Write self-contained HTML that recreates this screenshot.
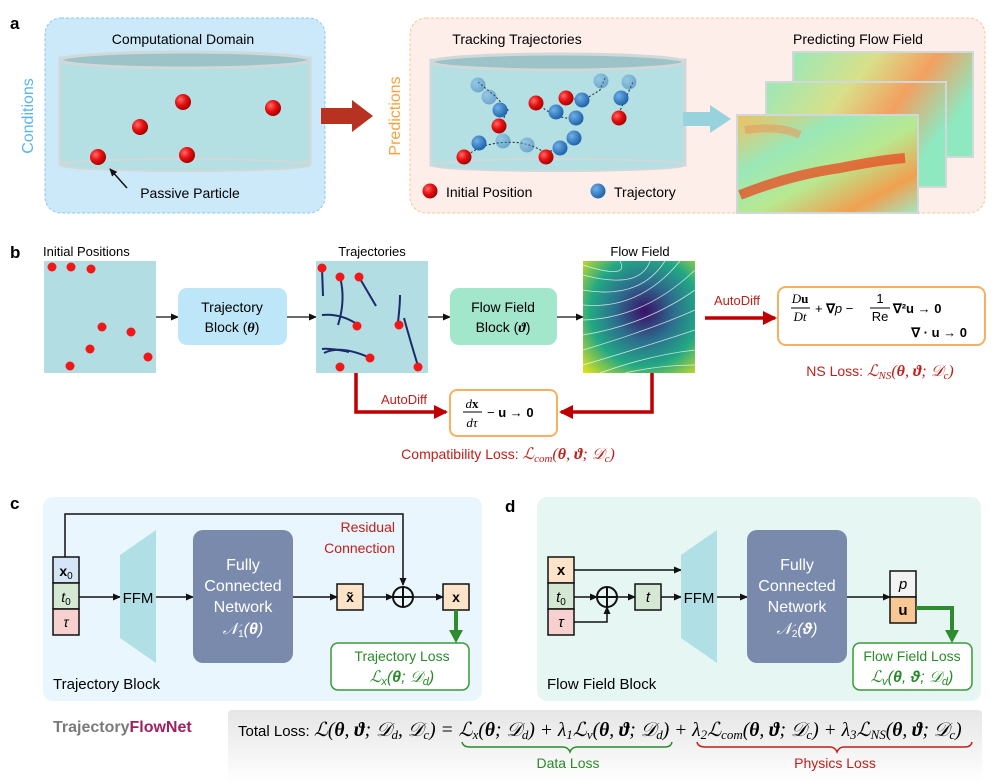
<!DOCTYPE html>
<html><head><meta charset="utf-8"><style>
html,body{margin:0;padding:0;background:#fff}
svg{display:block}
text{font-family:"Liberation Sans",sans-serif}
.m{font-family:"Liberation Serif",serif;font-style:italic}
</style></head><body>
<svg width="997" height="784" viewBox="0 0 997 784" xmlns="http://www.w3.org/2000/svg">
<defs>
<radialGradient id="rb" cx="0.35" cy="0.35" r="0.7"><stop offset="0" stop-color="#ff6a6a"/><stop offset="0.5" stop-color="#e81010"/><stop offset="1" stop-color="#a00000"/></radialGradient>
<radialGradient id="bb" cx="0.35" cy="0.35" r="0.7"><stop offset="0" stop-color="#6fb0e8"/><stop offset="1" stop-color="#1a5fa8"/></radialGradient>
<linearGradient id="jet" x1="0" y1="0" x2="1" y2="1"><stop offset="0" stop-color="#f0c060"/><stop offset="0.3" stop-color="#9ae8b8"/><stop offset="0.55" stop-color="#b8e890"/><stop offset="0.8" stop-color="#f0a050"/><stop offset="1" stop-color="#a0e8c0"/></linearGradient>
<linearGradient id="jet2" x1="0" y1="0" x2="1" y2="0.4"><stop offset="0" stop-color="#9ae8b8"/><stop offset="0.4" stop-color="#d8e08a"/><stop offset="0.7" stop-color="#f2a060"/><stop offset="1" stop-color="#8ee8c0"/></linearGradient>
<radialGradient id="vir" cx="0.55" cy="0.45" r="0.75"><stop offset="0" stop-color="#3a1068"/><stop offset="0.35" stop-color="#2c6e8e"/><stop offset="0.65" stop-color="#22a884"/><stop offset="1" stop-color="#d8e020"/></radialGradient>
<linearGradient id="tot" x1="0" y1="0" x2="0" y2="1"><stop offset="0" stop-color="#e6e6e6"/><stop offset="1" stop-color="#ffffff"/></linearGradient>
<marker id="ah" markerWidth="8" markerHeight="8" refX="7" refY="4" orient="auto" markerUnits="userSpaceOnUse"><path d="M0,0.5 L8,4 L0,7.5z" fill="#111"/></marker>
<marker id="ahr" markerWidth="14" markerHeight="14" refX="12" refY="7" orient="auto" markerUnits="userSpaceOnUse"><path d="M0,0 L14,7 L0,14z" fill="#c00000"/></marker>
</defs>

<!-- Panel a -->
<text x="10" y="29" font-size="17" font-weight="bold">a</text>
<rect x="45" y="18" width="280" height="195" rx="16" fill="#cce9f9" stroke="#86c8f0" stroke-dasharray="3,2"/>
<text x="183" y="44" font-size="14" text-anchor="middle">Computational Domain</text>
<text x="33" y="116" font-size="16" fill="#5ab4ef" text-anchor="middle" transform="rotate(-90 33 116)">Conditions</text>
<rect x="60" y="58" width="250" height="105" fill="#b4dfe3" stroke="#d0d8da" stroke-width="3"/>
<ellipse cx="185" cy="165" rx="125" ry="6" fill="#b4dfe3" stroke="#d0d8da" stroke-width="2"/>
<ellipse cx="185" cy="60" rx="125" ry="8" fill="#9cc4c8" stroke="#d0d8da" stroke-width="3"/>
<g fill="url(#rb)"><circle cx="183" cy="102" r="8"/><circle cx="140" cy="127" r="8"/><circle cx="273" cy="108" r="8"/><circle cx="98" cy="157" r="8"/><circle cx="187" cy="155" r="8"/></g>
<line x1="127" y1="188" x2="110" y2="169" stroke="#111" stroke-width="1.5" marker-end="url(#ah)"/>
<text x="190" y="198" font-size="14" text-anchor="middle">Passive Particle</text>
<path d="M321,108 H352 V100 L373,116 L352,132 V124 H321z" fill="#b83222"/>

<rect x="410" y="18" width="575" height="195" rx="16" fill="#fdeeea" stroke="#f8c890" stroke-dasharray="3,2"/>
<text x="400" y="116" font-size="16" fill="#f5a340" text-anchor="middle" transform="rotate(-90 400 116)">Predictions</text>
<text x="517" y="44" font-size="14" text-anchor="middle">Tracking Trajectories</text>
<rect x="431" y="60" width="254" height="105" fill="#b4dfe3" stroke="#d0d8da" stroke-width="3"/>
<ellipse cx="558" cy="165" rx="127" ry="6" fill="#b4dfe3" stroke="#d0d8da" stroke-width="2"/>
<ellipse cx="558" cy="62" rx="127" ry="8" fill="#9cc4c8" stroke="#d0d8da" stroke-width="3"/>
<g stroke="#223" stroke-width="1" stroke-dasharray="2,2" fill="none">
<path d="M478,82 L495,96 L508,110 L500,125"/><path d="M464,157 L480,147 Q520,135 545,153 L560,148 L575,137"/>
<path d="M537,104 L555,116 L583,121"/><path d="M566,98 L584,100 L600,90 L605,78"/><path d="M617,117 L625,100 L633,82"/>
</g>
<g fill="url(#bb)"><circle cx="500" cy="110" r="7.5"/><circle cx="479" cy="143" r="7.5"/><circle cx="556" cy="112" r="7.5"/><circle cx="576" cy="118" r="7.5"/><circle cx="582" cy="100" r="7.5"/><circle cx="560" cy="148" r="7.5"/><circle cx="574" cy="138" r="7.5"/><circle cx="621" cy="98" r="7.5"/></g>
<g fill="url(#bb)" opacity="0.45"><circle cx="478" cy="85" r="7.5"/><circle cx="489" cy="97" r="7.5"/><circle cx="503" cy="141" r="7.5"/><circle cx="527" cy="145" r="7.5"/><circle cx="601" cy="81" r="7.5"/><circle cx="629" cy="82" r="7.5"/></g>
<g fill="url(#rb)"><circle cx="499" cy="126" r="7.5"/><circle cx="464" cy="157" r="7.5"/><circle cx="536" cy="103" r="7.5"/><circle cx="566" cy="98" r="7.5"/><circle cx="546" cy="157" r="7.5"/><circle cx="619" cy="118" r="7.5"/></g>
<circle cx="430" cy="191" r="7.5" fill="url(#rb)"/><text x="446" y="197" font-size="14">Initial Position</text>
<circle cx="598" cy="191" r="7.5" fill="url(#bb)"/><text x="614" y="197" font-size="14">Trajectory</text>
<path d="M683,112 H710 V105 L731,119 L710,133 V126 H683z" fill="#98d2dc"/>
<text x="858" y="44" font-size="14" text-anchor="middle">Predicting Flow Field</text>
<rect x="793" y="52" width="180" height="105" fill="url(#jet2)" stroke="#d0d8da" stroke-width="2"/>
<rect x="766" y="82" width="180" height="105" fill="url(#jet2)" stroke="#d0d8da" stroke-width="2"/>
<rect x="737" y="115" width="181" height="98" fill="url(#jet)" stroke="#d0d8da" stroke-width="2"/>
<path d="M740,195 Q790,175 840,168 Q880,160 905,158" stroke="#e84a20" stroke-width="10" fill="none" opacity="0.75"/>
<path d="M745,130 Q780,125 800,135" stroke="#f09050" stroke-width="8" fill="none" opacity="0.5"/>

<!-- Panel b -->
<text x="10" y="258" font-size="17" font-weight="bold">b</text>
<text x="43" y="256" font-size="13">Initial Positions</text>
<rect x="44" y="261" width="112" height="112" fill="#b2dde2"/>
<g fill="#f01818"><circle cx="52" cy="267" r="4.5"/><circle cx="71" cy="267" r="4.5"/><circle cx="91" cy="269" r="4.5"/><circle cx="102" cy="327" r="4.5"/><circle cx="131" cy="332" r="4.5"/><circle cx="90" cy="349" r="4.5"/><circle cx="148" cy="357" r="4.5"/><circle cx="70" cy="366" r="4.5"/></g>
<line x1="156" y1="317" x2="178" y2="317" stroke="#111" stroke-width="1.3" marker-end="url(#ah)"/>
<rect x="178" y="288" width="109" height="57" rx="9" fill="#bde6f8"/>
<text x="232" y="312" font-size="14" text-anchor="middle">Trajectory</text>
<text x="232" y="332" font-size="14" text-anchor="middle">Block (<tspan class="m" font-weight="bold">θ</tspan>)</text>
<line x1="287" y1="317" x2="316" y2="317" stroke="#111" stroke-width="1.3" marker-end="url(#ah)"/>
<text x="372" y="256" font-size="13" text-anchor="middle">Trajectories</text>
<rect x="316" y="261" width="112" height="112" fill="#b2dde2"/>
<g stroke="#1a2a6a" stroke-width="2" fill="none"><path d="M322,268 L323,296"/><path d="M340,277 Q346,300 338,325"/><path d="M359,277 L376,306"/><path d="M349,352 Q330,348 322,349"/><path d="M357,324 Q340,313 322,315"/><path d="M368,357 Q340,345 324,353"/><path d="M398,322 Q400,305 400,295"/><path d="M418,366 Q410,340 404,318"/></g>
<g fill="#f01818"><circle cx="322" cy="268" r="4.5"/><circle cx="340" cy="277" r="4.5"/><circle cx="359" cy="277" r="4.5"/><circle cx="370" cy="358" r="4.5"/><circle cx="357" cy="326" r="4.5"/><circle cx="399" cy="325" r="4.5"/><circle cx="418" cy="367" r="4.5"/><circle cx="340" cy="367" r="4.5"/></g>
<line x1="428" y1="317" x2="450" y2="317" stroke="#111" stroke-width="1.3" marker-end="url(#ah)"/>
<rect x="450" y="288" width="107" height="57" rx="9" fill="#a2e6cc"/>
<text x="503" y="312" font-size="14" text-anchor="middle">Flow Field</text>
<text x="503" y="332" font-size="14" text-anchor="middle">Block (<tspan class="m" font-weight="bold">ϑ</tspan>)</text>
<line x1="557" y1="317" x2="583" y2="317" stroke="#111" stroke-width="1.3" marker-end="url(#ah)"/>
<text x="640" y="256" font-size="13" text-anchor="middle">Flow Field</text>
<rect x="583" y="261" width="112" height="112" fill="url(#vir)"/>
<g stroke="#fff" stroke-width="0.8" fill="none" opacity="0.75">
<path d="M583,275 Q640,290 650,261"/><path d="M583,290 Q640,300 665,261"/><path d="M583,305 Q640,310 680,261"/><path d="M583,320 Q645,318 695,270"/><path d="M583,335 Q645,325 695,290"/><path d="M583,350 Q650,330 695,310"/><path d="M583,365 Q650,345 695,330"/><path d="M600,373 Q650,355 695,350"/><path d="M625,373 Q660,365 695,365"/><path d="M620,261 Q630,280 583,265"/></g>
<line x1="705" y1="318" x2="775" y2="318" stroke="#c00000" stroke-width="3.5" marker-end="url(#ahr)"/>
<text x="737" y="305" font-size="13" fill="#c0201a" text-anchor="middle">AutoDiff</text>
<rect x="778" y="287" width="207" height="58" rx="8" fill="#fff" stroke="#f8b060" stroke-width="2"/>
<g font-family="Liberation Serif,serif" font-size="13">
<text x="800" y="303" class="m" text-anchor="middle">D<tspan font-weight="bold" font-style="normal">u</tspan></text>
<line x1="791" y1="308" x2="810" y2="308" stroke="#000"/>
<text x="800" y="321" class="m" text-anchor="middle">Dt</text>
<text x="815" y="313">+ <tspan font-weight="bold">∇</tspan><tspan font-style="italic">p</tspan> −</text>
<text x="880" y="303" text-anchor="middle">1</text><line x1="870" y1="308" x2="890" y2="308" stroke="#000"/><text x="880" y="321" text-anchor="middle">Re</text>
<text x="893" y="313" font-weight="bold">∇²u → 0</text>
<text x="967" y="337" font-weight="bold" text-anchor="end">∇ · u → 0</text></g>
<text x="880" y="376" font-size="14" fill="#c0201a" text-anchor="middle">NS Loss: <tspan class="m" font-family="Liberation Serif,serif" font-size="16">ℒ<tspan font-size="11" dy="3">NS</tspan><tspan dy="-3">(<tspan font-weight="bold">θ</tspan>, <tspan font-weight="bold">ϑ</tspan>; 𝒟<tspan font-size="11" dy="3">c</tspan><tspan dy="-3">)</tspan></tspan></tspan></text>
<path d="M356,373 V412 H446" stroke="#c00000" stroke-width="3.5" fill="none" marker-end="url(#ahr)"/>
<path d="M652,373 V412 H561" stroke="#c00000" stroke-width="3.5" fill="none" marker-end="url(#ahr)"/>
<text x="404" y="404" font-size="13" fill="#c0201a" text-anchor="middle">AutoDiff</text>
<rect x="450" y="390" width="107" height="46" rx="7" fill="#fff" stroke="#f8b060" stroke-width="2"/>
<g font-family="Liberation Serif,serif" font-size="13"><text x="472" y="408" class="m" text-anchor="middle">d<tspan font-weight="bold" font-style="normal">x</tspan></text><line x1="463" y1="412" x2="482" y2="412" stroke="#000"/><text x="472" y="427" class="m" text-anchor="middle">dτ</text><text x="487" y="417">− <tspan font-weight="bold">u → 0</tspan></text></g>
<text x="508" y="459" font-size="14" fill="#c0201a" text-anchor="middle">Compatibility  Loss: <tspan class="m" font-family="Liberation Serif,serif" font-size="16">ℒ<tspan font-size="11" dy="3">com</tspan><tspan dy="-3">(<tspan font-weight="bold">θ</tspan>, <tspan font-weight="bold">ϑ</tspan>; 𝒟<tspan font-size="11" dy="3">c</tspan><tspan dy="-3">)</tspan></tspan></tspan></text>

<!-- Panel c -->
<text x="10" y="509" font-size="17" font-weight="bold">c</text>
<rect x="43" y="497" width="439" height="204" rx="10" fill="#eaf6fd"/>
<path d="M65,557 V514 H403 V585" stroke="#111" stroke-width="1.5" fill="none" marker-end="url(#ah)"/>
<text x="395" y="532" font-size="14" fill="#c0201a" text-anchor="end">Residual</text>
<text x="395" y="553" font-size="14" fill="#c0201a" text-anchor="end">Connection</text>
<rect x="53" y="557" width="26" height="26" fill="#d5e5f5" stroke="#111" stroke-width="1.5"/>
<rect x="53" y="583" width="26" height="26" fill="#d4e8d4" stroke="#111" stroke-width="1.5"/>
<rect x="53" y="609" width="26" height="26" fill="#f7d0d0" stroke="#111" stroke-width="1.5"/>
<g font-family="Liberation Serif,serif" font-size="14" text-anchor="middle"><text x="66" y="576" font-weight="bold">x<tspan font-size="10" font-weight="normal" dy="3">0</tspan></text><text x="66" y="602" font-style="italic">t<tspan font-size="10" font-style="normal" dy="3">0</tspan></text><text x="66" y="627" font-style="italic">τ</text></g>
<line x1="79" y1="597" x2="120" y2="597" stroke="#111" stroke-width="1.5" marker-end="url(#ah)"/>
<polygon points="120,555 156,530 156,663 120,638" fill="#b0e0e5"/>
<text x="138" y="603" font-size="15" text-anchor="middle">FFM</text>
<line x1="156" y1="597" x2="193" y2="597" stroke="#111" stroke-width="1.5" marker-end="url(#ah)"/>
<rect x="193" y="530" width="100" height="133" rx="10" fill="#7a8aad"/>
<g fill="#fff" font-size="16" text-anchor="middle"><text x="243" y="570">Fully</text><text x="243" y="591">Connected</text><text x="243" y="612">Network</text><text x="243" y="634" font-family="Liberation Serif,serif" font-style="italic">𝒩<tspan font-size="10" font-style="normal" dy="3">1</tspan><tspan dy="-3">(<tspan font-weight="bold">θ</tspan>)</tspan></text></g>
<line x1="293" y1="597" x2="337" y2="597" stroke="#111" stroke-width="1.5" marker-end="url(#ah)"/>
<rect x="337" y="584" width="26" height="26" fill="#fde4c8" stroke="#111" stroke-width="1.5"/>
<text x="350" y="602" font-size="14" font-family="Liberation Serif,serif" font-weight="bold" text-anchor="middle">x̃</text>
<line x1="363" y1="597" x2="393" y2="597" stroke="#111" stroke-width="1.5" marker-end="url(#ah)"/>
<circle cx="403" cy="597" r="10" fill="none" stroke="#111" stroke-width="2"/><path d="M393,597 H413 M403,587 V607" stroke="#111" stroke-width="2"/>
<line x1="413" y1="597" x2="443" y2="597" stroke="#111" stroke-width="1.5" marker-end="url(#ah)"/>
<rect x="443" y="584" width="26" height="26" fill="#fde4c8" stroke="#111" stroke-width="1.5"/>
<text x="456" y="602" font-size="14" font-family="Liberation Serif,serif" font-weight="bold" text-anchor="middle">x</text>
<path d="M456,610 V632" stroke="#2e8b2e" stroke-width="4"/><path d="M449,630 L463,630 L456,643z" fill="#2e8b2e"/>
<rect x="331" y="643" width="138" height="47" rx="7" fill="#fff" stroke="#3a9a3a" stroke-width="1.5"/>
<text x="402" y="661" font-size="14" fill="#2a8a2a" text-anchor="middle">Trajectory Loss</text>
<text x="402" y="682" font-size="16" fill="#2a8a2a" text-anchor="middle" font-family="Liberation Serif,serif" font-style="italic">ℒ<tspan font-size="11" dy="3">x</tspan><tspan dy="-3">(<tspan font-weight="bold">θ</tspan>; 𝒟<tspan font-size="11" dy="3">d</tspan><tspan dy="-3">)</tspan></tspan></text>
<text x="53" y="689" font-size="15">Trajectory Block</text>

<!-- Panel d -->
<text x="505" y="512" font-size="17" font-weight="bold">d</text>
<rect x="537" y="497" width="444" height="204" rx="10" fill="#e6f6f2"/>
<rect x="548" y="557" width="26" height="26" fill="#fde4c8" stroke="#111" stroke-width="1.5"/>
<rect x="548" y="583" width="26" height="26" fill="#d4e8d4" stroke="#111" stroke-width="1.5"/>
<rect x="548" y="609" width="26" height="26" fill="#f7d0d0" stroke="#111" stroke-width="1.5"/>
<line x1="574" y1="570" x2="681" y2="570" stroke="#111" stroke-width="1.5" marker-end="url(#ah)"/>
<line x1="574" y1="597" x2="597" y2="597" stroke="#111" stroke-width="1.5" marker-end="url(#ah)"/>
<path d="M574,622 H607 V607" stroke="#111" stroke-width="1.5" fill="none" marker-end="url(#ah)"/>
<circle cx="607" cy="597" r="10" fill="none" stroke="#111" stroke-width="2"/><path d="M597,597 H617 M607,587 V607" stroke="#111" stroke-width="2"/>
<line x1="617" y1="597" x2="635" y2="597" stroke="#111" stroke-width="1.5" marker-end="url(#ah)"/>
<rect x="635" y="584" width="26" height="26" fill="#d4e8d4" stroke="#111" stroke-width="1.5"/>
<line x1="661" y1="597" x2="681" y2="597" stroke="#111" stroke-width="1.5" marker-end="url(#ah)"/>
<polygon points="681,555 717,530 717,663 681,638" fill="#b0e0e5"/>
<text x="699" y="603" font-size="15" text-anchor="middle">FFM</text>
<line x1="717" y1="597" x2="747" y2="597" stroke="#111" stroke-width="1.5" marker-end="url(#ah)"/>
<rect x="747" y="530" width="100" height="133" rx="10" fill="#7a8aad"/>
<g fill="#fff" font-size="16" text-anchor="middle"><text x="797" y="570">Fully</text><text x="797" y="591">Connected</text><text x="797" y="612">Network</text><text x="797" y="634" font-family="Liberation Serif,serif" font-style="italic">𝒩<tspan font-size="10" font-style="normal" dy="3">2</tspan><tspan dy="-3">(<tspan font-weight="bold">ϑ</tspan>)</tspan></text></g>
<line x1="847" y1="597" x2="890" y2="597" stroke="#111" stroke-width="1.5" marker-end="url(#ah)"/>
<rect x="890" y="571" width="26" height="26" fill="#f2f2f2" stroke="#111" stroke-width="1.5"/>
<rect x="890" y="597" width="26" height="26" fill="#f9c793" stroke="#111" stroke-width="1.5"/>
<g font-family="Liberation Serif,serif" font-size="15" text-anchor="middle"><text x="561" y="575" font-weight="bold">x</text><text x="561" y="602" font-style="italic">t<tspan font-size="10" font-style="normal" dy="3">0</tspan></text><text x="561" y="627" font-style="italic">τ</text><text x="648" y="602" font-style="italic">t</text><text x="903" y="589" font-style="italic">p</text><text x="903" y="615" font-weight="bold">u</text></g>
<path d="M916,608 H952 V632" stroke="#2e8b2e" stroke-width="4" fill="none"/><path d="M945,630 L959,630 L952,643z" fill="#2e8b2e"/>
<rect x="853" y="643" width="119" height="47" rx="7" fill="#fff" stroke="#3a9a3a" stroke-width="1.5"/>
<text x="912" y="661" font-size="14" fill="#2a8a2a" text-anchor="middle">Flow Field Loss</text>
<text x="912" y="682" font-size="16" fill="#2a8a2a" text-anchor="middle" font-family="Liberation Serif,serif" font-style="italic">ℒ<tspan font-size="11" dy="3">v</tspan><tspan dy="-3">(<tspan font-weight="bold">θ</tspan>, <tspan font-weight="bold">ϑ</tspan>; 𝒟<tspan font-size="11" dy="3">d</tspan><tspan dy="-3">)</tspan></tspan></text>
<text x="547" y="689" font-size="15">Flow Field Block</text>

<!-- Bottom -->
<text x="53" y="732" font-size="16" font-weight="bold" fill="#7a7a7a">Trajectory<tspan fill="#a02060">FlowNet</tspan></text>
<rect x="228" y="710" width="754" height="74" rx="4" fill="url(#tot)"/>
<text x="238" y="736" font-size="15">Total Loss: <tspan font-family="Liberation Serif,serif" font-style="italic" font-size="19.5">ℒ(<tspan font-weight="bold">θ</tspan>, <tspan font-weight="bold">ϑ</tspan>; 𝒟<tspan font-size="13" dy="3">d</tspan><tspan dy="-3">, 𝒟</tspan><tspan font-size="13" dy="3">c</tspan><tspan dy="-3">) = ℒ</tspan><tspan font-size="13" dy="3">x</tspan><tspan dy="-3">(<tspan font-weight="bold">θ</tspan>; 𝒟</tspan><tspan font-size="13" dy="3">d</tspan><tspan dy="-3">) + λ</tspan><tspan font-size="13" dy="3">1</tspan><tspan dy="-3">ℒ</tspan><tspan font-size="13" dy="3">v</tspan><tspan dy="-3">(<tspan font-weight="bold">θ</tspan>, <tspan font-weight="bold">ϑ</tspan>; 𝒟</tspan><tspan font-size="13" dy="3">d</tspan><tspan dy="-3">) + λ</tspan><tspan font-size="13" dy="3">2</tspan><tspan dy="-3">ℒ</tspan><tspan font-size="13" dy="3">com</tspan><tspan dy="-3">(<tspan font-weight="bold">θ</tspan>, <tspan font-weight="bold">ϑ</tspan>; 𝒟</tspan><tspan font-size="13" dy="3">c</tspan><tspan dy="-3">) + λ</tspan><tspan font-size="13" dy="3">3</tspan><tspan dy="-3">ℒ</tspan><tspan font-size="13" dy="3">NS</tspan><tspan dy="-3">(<tspan font-weight="bold">θ</tspan>, <tspan font-weight="bold">ϑ</tspan>; 𝒟</tspan><tspan font-size="13" dy="3">c</tspan><tspan dy="-3">)</tspan></tspan></text>
<path d="M462,742 Q463,747 470,747 H563 Q568,747 570,752 Q572,747 577,747 H665 Q671,747 672,742" stroke="#2a8a2a" stroke-width="1.5" fill="none"/>
<text x="568" y="768" font-size="14" fill="#2a8a2a" text-anchor="middle">Data Loss</text>
<path d="M697,742 Q698,747 705,747 H830 Q835,747 837,752 Q839,747 844,747 H965 Q971,747 972,742" stroke="#c0201a" stroke-width="1.5" fill="none"/>
<text x="835" y="768" font-size="14" fill="#c0201a" text-anchor="middle">Physics Loss</text>
</svg>
</body></html>
